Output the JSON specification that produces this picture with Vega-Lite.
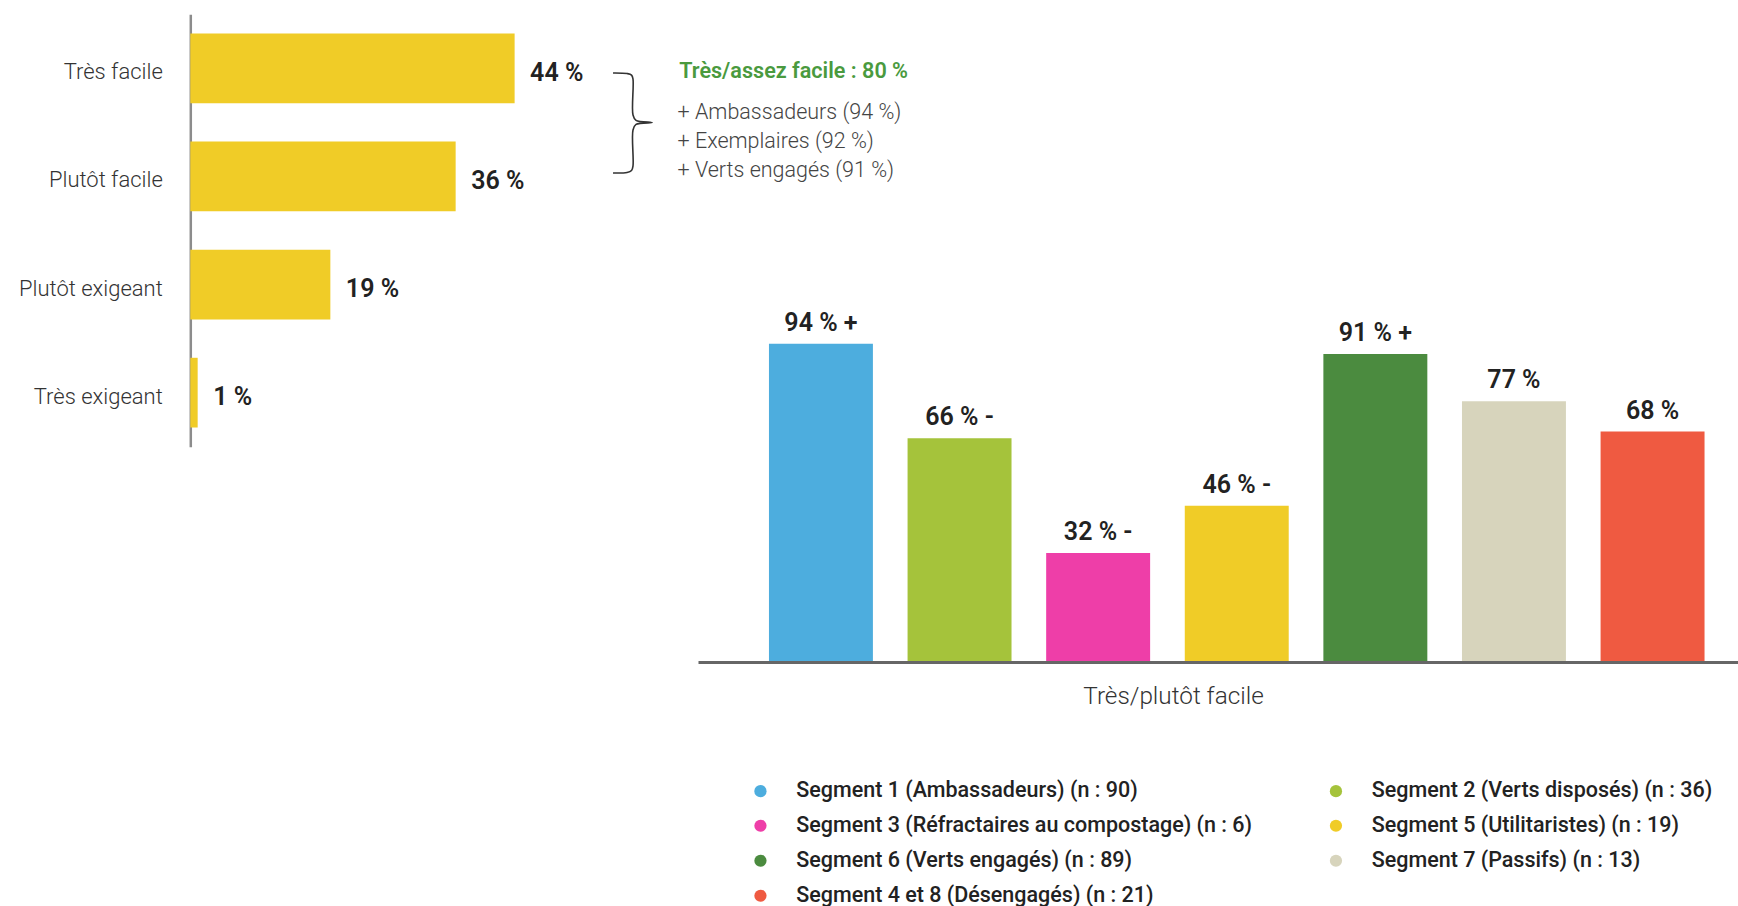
{
  "$schema": "https://vega.github.io/schema/vega-lite/v6.json",
  "width": 1738,
  "height": 906,
  "autosize": {"type": "none"},
  "padding": 0,
  "background": "white",
  "config": {"view": {"stroke": null}, "font": "Roboto"},
  "datasets": {
    "ease": [
      {"niveau": "Très facile", "pct": 44, "label": "44 %"},
      {"niveau": "Plutôt facile", "pct": 36, "label": "36 %"},
      {"niveau": "Plutôt exigeant", "pct": 19, "label": "19 %"},
      {"niveau": "Très exigeant", "pct": 1, "label": "1 %"}
    ],
    "segments": [
      {"segment": "Segment 1 (Ambassadeurs) (n : 90)", "pct": 94, "label": "94 % +"},
      {"segment": "Segment 2 (Verts disposés) (n : 36)", "pct": 66, "label": "66 % -"},
      {"segment": "Segment 3 (Réfractaires au compostage) (n : 6)", "pct": 32, "label": "32 % -"},
      {"segment": "Segment 5 (Utilitaristes) (n : 19)", "pct": 46, "label": "46 % -"},
      {"segment": "Segment 6 (Verts engagés) (n : 89)", "pct": 91, "label": "91 % +"},
      {"segment": "Segment 7 (Passifs) (n : 13)", "pct": 77, "label": "77 %"},
      {"segment": "Segment 4 et 8 (Désengagés) (n : 21)", "pct": 68, "label": "68 %"}
    ],
    "brace": [
      {"i": 1, "bx": 57.35, "by": 0.543},
      {"i": 2, "bx": 59.25, "by": 0.548},
      {"i": 3, "bx": 59.86, "by": 0.562},
      {"i": 4, "bx": 60.06, "by": 0.599},
      {"i": 5, "bx": 60.06, "by": 0.932},
      {"i": 6, "bx": 60.47, "by": 0.982},
      {"i": 7, "bx": 62.64, "by": 1.001},
      {"i": 8, "bx": 60.47, "by": 1.019},
      {"i": 9, "bx": 60.06, "by": 1.07},
      {"i": 10, "bx": 60.06, "by": 1.403},
      {"i": 11, "bx": 59.86, "by": 1.445},
      {"i": 12, "bx": 59.25, "by": 1.463},
      {"i": 13, "bx": 57.35, "by": 1.468}
    ]
  },
  "layer": [
    {
      "data": {"name": "ease"},
      "encoding": {
        "y": {
          "field": "niveau", "type": "nominal", "sort": null,
          "scale": {"range": [14.3, 446.7], "paddingInner": 0.355, "paddingOuter": 0.1775},
          "axis": {
            "title": null, "orient": "left", "offset": -190.3, "ticks": false, "tickSize": 0,
            "labelPadding": 28, "labelFont": "Roboto", "labelFontSize": 22, "labelFontWeight": 300,
            "labelColor": "#333333", "labelOffset": 4, "labelLimit": 400,
            "domainColor": "#8c8c8c", "domainWidth": 2.5, "grid": false
          }
        },
        "x": {"field": "pct", "type": "quantitative", "scale": {"domain": [0, 100], "range": [190.3, 927.4]}, "axis": null}
      },
      "layer": [
        {"mark": {"type": "bar", "color": "#F0CC27"}},
        {
          "mark": {"type": "text", "align": "left", "baseline": "alphabetic", "dx": 15.5, "dy": 12.5, "font": "Roboto", "fontSize": 25, "fontWeight": 600, "color": "#222222"},
          "encoding": {"text": {"field": "label"}}
        },
        {
          "transform": [{"filter": "datum.niveau === 'Très facile'"}],
          "mark": {"type": "text", "align": "left", "baseline": "alphabetic", "dy": 10, "font": "Roboto", "fontSize": 21.6, "fontWeight": 600, "color": "#4A9A3E"},
          "encoding": {"x": {"datum": 66.34}, "text": {"value": "Très/assez facile : 80 %"}}
        },
        {
          "transform": [{"filter": "datum.niveau === 'Très facile'"}],
          "mark": {"type": "text", "align": "left", "baseline": "alphabetic", "dy": 50.4, "lineHeight": 29.2, "font": "Roboto", "fontSize": 21.5, "fontWeight": 300, "color": "#444444"},
          "encoding": {"x": {"datum": 66.1}, "text": {"value": ["+ Ambassadeurs (94 %)", "+ Exemplaires (92 %)", "+ Verts engagés (91 %)"]}}
        }
      ]
    },
    {
      "data": {"name": "brace"},
      "mark": {"type": "line", "color": "#333333", "strokeWidth": 1.6, "interpolate": "catmull-rom"},
      "encoding": {
        "x": {"field": "bx", "type": "quantitative", "scale": {"domain": [0, 100], "range": [190.3, 927.4]}, "axis": null},
        "y": {"field": "by", "type": "quantitative", "scale": {"domain": [0, 4], "range": [14.3, 446.7]}, "axis": null},
        "order": {"field": "i", "type": "quantitative"}
      }
    },
    {
      "data": {"name": "segments"},
      "encoding": {
        "x": {
          "field": "segment", "type": "nominal", "sort": null,
          "scale": {"range": [698, 1775.5], "paddingInner": 0.25, "paddingOuter": 0.512},
          "axis": {
            "title": "Très/plutôt facile", "orient": "bottom", "offset": -244, "labels": false, "ticks": false,
            "domainColor": "#666666", "domainWidth": 3, "grid": false, "zindex": 1,
            "titleFont": "Roboto", "titleFontSize": 24.3, "titleFontWeight": 300, "titleColor": "#333333",
            "titleX": 1173, "titleY": 41, "titleBaseline": "alphabetic", "titleAlign": "center"
          }
        },
        "y": {"field": "pct", "type": "quantitative", "scale": {"domain": [0, 100], "range": [661, 323.6]}, "axis": null}
      },
      "layer": [
        {
          "mark": {"type": "bar"},
          "encoding": {
            "color": {
              "field": "segment", "type": "nominal", "sort": null,
              "scale": {
                "domain": [
                  "Segment 1 (Ambassadeurs) (n : 90)",
                  "Segment 2 (Verts disposés) (n : 36)",
                  "Segment 3 (Réfractaires au compostage) (n : 6)",
                  "Segment 5 (Utilitaristes) (n : 19)",
                  "Segment 6 (Verts engagés) (n : 89)",
                  "Segment 7 (Passifs) (n : 13)",
                  "Segment 4 et 8 (Désengagés) (n : 21)"
                ],
                "range": ["#4DADDE", "#A5C33B", "#EE3EA8", "#F0CC27", "#4B8B3F", "#D7D4BC", "#EF5A41"]
              },
              "legend": {
                "orient": "none", "legendX": 749.7, "legendY": 780, "columns": 2, "direction": "horizontal", "title": null,
                "symbolType": "circle", "symbolSize": 150, "symbolStrokeWidth": 0, "symbolOpacity": 1,
                "labelFont": "Roboto", "labelFontSize": 21.5, "labelFontWeight": 500, "labelColor": "#222222",
                "labelOffset": 25, "labelLimit": 700, "columnPadding": 72.5, "rowPadding": 12
              }
            }
          }
        },
        {
          "mark": {"type": "text", "baseline": "alphabetic", "dy": -13, "font": "Roboto", "fontSize": 25, "fontWeight": 600, "color": "#222222"},
          "encoding": {"text": {"field": "label"}}
        }
      ]
    }
  ],
  "resolve": {
    "scale": {"x": "independent", "y": "independent", "color": "independent"},
    "axis": {"x": "independent", "y": "independent"}
  }
}
